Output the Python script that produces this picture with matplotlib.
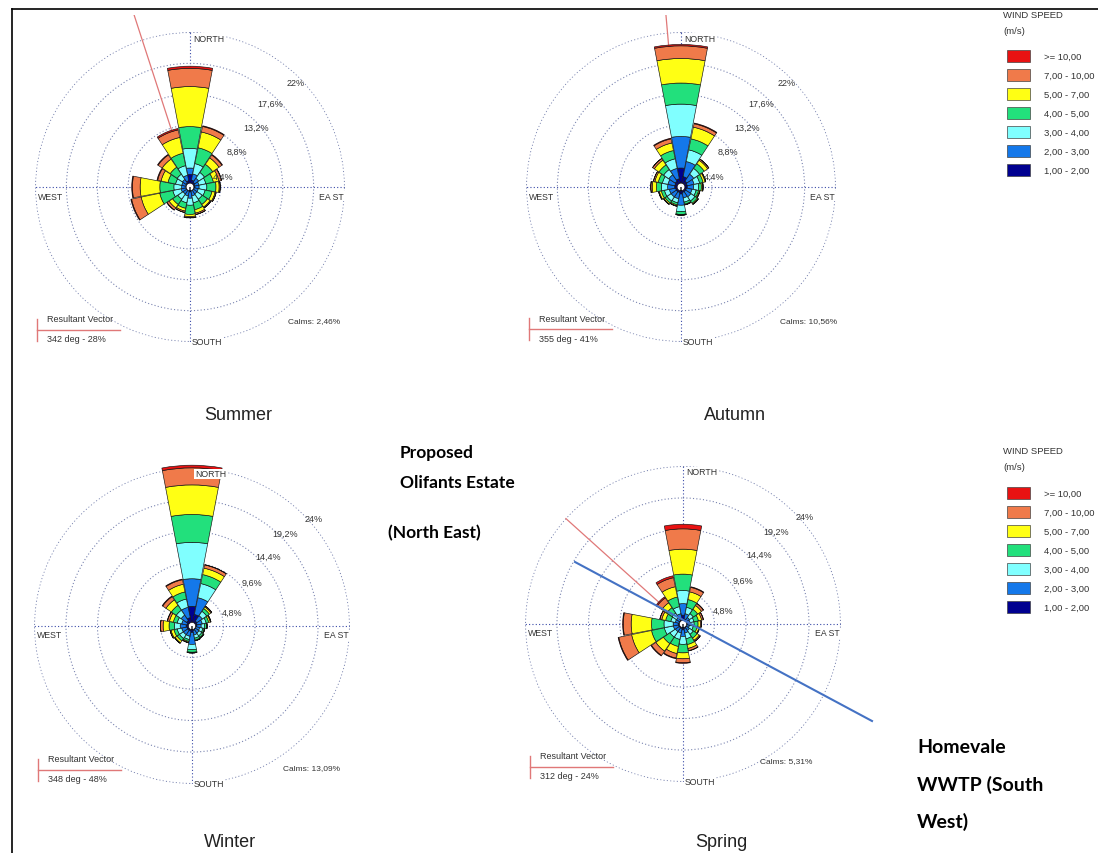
import numpy as np
import matplotlib.pyplot as plt
from matplotlib.patches import Rectangle
from matplotlib.lines import Line2D
from matplotlib.transforms import Bbox, TransformedBbox

W, H = 1098, 854

# wind speed classes (m/s), inner to outer
speed_labels = ['1,00 - 2,00', '2,00 - 3,00', '3,00 - 4,00', '4,00 - 5,00',
                '5,00 - 7,00', '7,00 - 10,00', '>= 10,00']
speed_colors = ['#000090', '#1478ea', '#80ffff', '#22e07c', '#ffff14', '#f07a4a', '#e81212']

directions = ['N', 'NNE', 'NE', 'ENE', 'E', 'ESE', 'SE', 'SSE',
              'S', 'SSW', 'SW', 'WSW', 'W', 'WNW', 'NW', 'NNW']
dir_deg = np.arange(16) * 22.5

# frequency (%) per direction, per speed class (1-2, 2-3, 3-4, 4-5, 5-7, 7-10, >=10)
summer = [
    [1.8, 0.9, 2.8, 3.1, 5.7, 2.6, 0.3],
    [1.0, 0.9, 1.5, 2.3, 2.3, 0.8, 0.1],
    [0.8, 0.7, 1.0, 1.4, 1.1, 0.5, 0.1],
    [0.7, 0.6, 1.0, 1.1, 0.8, 0.35, 0.05],
    [0.7, 0.6, 1.1, 1.3, 0.45, 0.15, 0.0],
    [0.6, 0.6, 1.0, 1.0, 0.45, 0.15, 0.0],
    [0.6, 0.6, 0.9, 0.9, 0.45, 0.15, 0.0],
    [0.6, 0.7, 1.0, 1.0, 0.5, 0.2, 0.0],
    [0.7, 0.9, 1.0, 1.3, 0.3, 0.15, 0.05],
    [0.6, 0.7, 1.0, 0.8, 0.4, 0.2, 0.0],
    [0.6, 0.6, 0.9, 0.9, 0.6, 0.35, 0.05],
    [0.6, 0.7, 1.2, 1.9, 2.7, 1.4, 0.1],
    [0.5, 0.7, 1.1, 2.0, 2.8, 1.1, 0.1],
    [0.6, 0.6, 0.9, 1.1, 1.0, 0.5, 0.1],
    [0.7, 0.6, 0.9, 1.2, 1.4, 0.7, 0.1],
    [0.9, 0.8, 1.4, 1.8, 2.3, 1.1, 0.2],
]
autumn = [
    [2.7, 4.5, 4.6, 3.0, 3.5, 1.8, 0.2],
    [1.5, 2.2, 1.7, 1.6, 1.7, 0.5, 0.1],
    [1.0, 1.2, 1.0, 0.8, 0.6, 0.2, 0.0],
    [0.9, 1.0, 0.8, 0.5, 0.3, 0.1, 0.0],
    [0.9, 0.9, 0.7, 0.4, 0.2, 0.05, 0.0],
    [0.8, 0.8, 0.6, 0.35, 0.15, 0.05, 0.0],
    [0.8, 0.9, 0.7, 0.4, 0.15, 0.05, 0.0],
    [0.8, 0.8, 0.6, 0.3, 0.1, 0.0, 0.0],
    [1.0, 1.6, 0.9, 0.4, 0.1, 0.0, 0.0],
    [0.8, 0.9, 0.6, 0.3, 0.15, 0.05, 0.0],
    [0.8, 0.9, 0.7, 0.35, 0.2, 0.05, 0.0],
    [0.8, 0.9, 0.7, 0.45, 0.3, 0.1, 0.0],
    [0.9, 1.0, 0.9, 0.7, 0.6, 0.2, 0.0],
    [0.9, 1.0, 0.8, 0.6, 0.5, 0.2, 0.0],
    [1.0, 1.1, 0.9, 0.8, 0.8, 0.3, 0.0],
    [1.2, 1.5, 1.4, 1.2, 1.1, 0.6, 0.1],
]
winter = [
    [3.0, 4.2, 5.55, 4.25, 4.5, 2.6, 0.4],
    [1.8, 2.6, 2.2, 1.4, 1.0, 0.5, 0.05],
    [0.9, 1.0, 0.8, 0.5, 0.3, 0.15, 0.0],
    [0.8, 0.8, 0.6, 0.4, 0.25, 0.1, 0.0],
    [0.7, 0.7, 0.5, 0.3, 0.1, 0.0, 0.0],
    [0.6, 0.6, 0.5, 0.2, 0.1, 0.0, 0.0],
    [0.6, 0.7, 0.5, 0.3, 0.1, 0.0, 0.0],
    [0.7, 0.7, 0.5, 0.3, 0.1, 0.0, 0.0],
    [1.0, 1.8, 0.8, 0.4, 0.1, 0.0, 0.0],
    [0.8, 0.8, 0.5, 0.3, 0.15, 0.05, 0.0],
    [0.8, 0.8, 0.7, 0.45, 0.35, 0.1, 0.0],
    [0.8, 0.8, 0.7, 0.5, 0.45, 0.15, 0.0],
    [0.9, 0.9, 0.9, 0.8, 0.9, 0.4, 0.0],
    [0.8, 0.8, 0.7, 0.6, 0.6, 0.3, 0.05],
    [1.0, 1.0, 0.9, 0.9, 1.0, 0.6, 0.1],
    [1.3, 1.6, 1.3, 1.1, 1.2, 0.7, 0.1],
]
spring = [
    [1.35, 1.75, 2.0, 2.5, 3.8, 3.1, 0.7],
    [0.8, 0.8, 1.0, 1.2, 1.2, 0.7, 0.1],
    [0.6, 0.6, 0.7, 0.8, 0.7, 0.35, 0.05],
    [0.6, 0.5, 0.6, 0.7, 0.5, 0.25, 0.05],
    [0.6, 0.5, 0.6, 0.6, 0.35, 0.15, 0.0],
    [0.5, 0.5, 0.6, 0.6, 0.3, 0.1, 0.0],
    [0.6, 0.6, 0.7, 0.7, 0.4, 0.2, 0.0],
    [0.7, 0.7, 0.9, 0.9, 0.6, 0.35, 0.05],
    [0.9, 1.0, 1.2, 1.3, 0.9, 0.6, 0.1],
    [0.7, 0.7, 1.0, 1.1, 1.1, 0.7, 0.1],
    [0.7, 0.7, 1.0, 1.2, 1.4, 0.8, 0.1],
    [0.7, 0.8, 1.4, 2.0, 3.1, 2.0, 0.1],
    [0.7, 0.8, 1.4, 1.9, 3.1, 1.2, 0.1],
    [0.6, 0.6, 0.7, 0.8, 0.6, 0.3, 0.0],
    [0.6, 0.6, 0.8, 1.0, 0.9, 0.9, 0.2],
    [0.8, 0.8, 1.1, 1.5, 1.6, 1.4, 0.3],
]

seasons = ['Summer', 'Autumn', 'Winter', 'Spring']
season_data = [summer, autumn, winter, spring]
ring_top = [4.4, 8.8, 13.2, 17.6, 22]
ring_bottom = [4.8, 9.6, 14.4, 19.2, 24]
ring_labels_top = ['4,4%', '8,8%', '13,2%', '17,6%', '22%']
ring_labels_bottom = ['4,8%', '9,6%', '14,4%', '19,2%', '24%']
vector_deg = [342, 355, 348, 312]
vector_pct = [28, 41, 48, 24]
calms = ['2,46%', '10,56%', '13,09%', '5,31%']


def fx(x):
    return x / W


def fy(y):
    return 1 - y / H


plt.rcParams['font.family'] = ['Liberation Sans', 'DejaVu Sans']
fig = plt.figure(figsize=(W / 100, H / 100), dpi=100)

# panel layout in pixels: centre, radius, visible box of each pasted image
centers = [(190, 188), (681, 188), (192, 627), (683, 625)]
radii = [155, 155, 158, 158]
crops = [(14, 16, 495, 432), (500, 16, 990, 432), (14, 600, 495, 854), (500, 440, 990, 854)]
label_off_top = [(33, -11), (47, -36), (66, -60), (80, -84), (106, -104)]
label_off_bottom = [(40, -14), (60, -44), (76, -70), (93, -93), (122, -108)]
grid_col = '#7a84b0'
axis_col = '#3a4aa8'
txt_col = '#333333'
dots = (0, (1, 2))

for i in range(4):
    cx, cy = centers[i]
    R = radii[i]
    top = i < 2
    rings = ring_top if top else ring_bottom
    rlabels = ring_labels_top if top else ring_labels_bottom
    offs = label_off_top if top else label_off_bottom
    ax = fig.add_axes([fx(cx - R), fy(cy + R), 2 * R / W, 2 * R / H], projection='polar')
    ax.set_theta_zero_location('N')
    ax.set_theta_direction(-1)
    ax.set_ylim(0, rings[-1] * 1.003)
    ax.set_axisbelow(True)

    vals = np.array(season_data[i])
    theta = np.deg2rad(dir_deg)
    width = np.deg2rad(22.5) * 0.96
    bottom = np.zeros(16)
    for k in range(7):
        ax.bar(theta, vals[:, k], width=width, bottom=bottom, color=speed_colors[k],
               edgecolor='#111111', linewidth=0.45, zorder=3, clip_on=False)
        bottom += vals[:, k]
    # calm circle
    ax.bar(0, 0.55, width=2 * np.pi, bottom=0, color='white', edgecolor='#111111',
           linewidth=0.5, zorder=4)

    ax.set_yticks(rings)
    ax.set_yticklabels([])
    ax.set_xticks(np.deg2rad([0, 90, 180, 270]))
    ax.set_xticklabels([])
    ax.yaxis.grid(True, linestyle=dots, color=grid_col, linewidth=0.8)
    ax.xaxis.grid(True, linestyle=dots, color=axis_col, linewidth=0.8)
    ax.spines['polar'].set_visible(False)
    ax.set_facecolor('none')

    # resultant vector
    ln, = ax.plot([np.deg2rad(vector_deg[i])] * 2, [0, vector_pct[i]], color='#e07878',
                  linewidth=0.9, zorder=2)
    x0, y0, x1, y1 = crops[i]
    ln.set_clip_path(None)
    ln.set_clip_box(TransformedBbox(Bbox.from_extents(fx(x0), fy(y1), fx(x1), fy(y0)),
                                    fig.transFigure))

    for lab, (dx, dy) in zip(rlabels, offs):
        fig.text(fx(cx + dx), fy(cy + dy), lab, fontsize=6.5, color=txt_col,
                 ha='center', va='center', zorder=6)

    bb = dict(facecolor='white', edgecolor='none', pad=0.6)
    fig.text(fx(cx + 3), fy(cy - R + 6), 'NORTH', fontsize=6.3, color=txt_col,
             ha='left', va='center', bbox=bb, zorder=6)
    fig.text(fx(cx + 2), fy(cy + R), 'SOUTH', fontsize=6.3, color=txt_col,
             ha='left', va='center', bbox=bb, zorder=6)
    fig.text(fx(cx - R + 3), fy(cy + 9), 'WEST', fontsize=6.3, color=txt_col,
             ha='left', va='center', bbox=bb, zorder=6)
    fig.text(fx(cx + R - 1), fy(cy + 9), 'EA ST', fontsize=6.3, color=txt_col,
             ha='right', va='center', bbox=bb, zorder=6)

# resultant vector / calms boxes
vec_boxes = [(37, 331), (529, 330), (38, 771), (530, 768)]
calm_pos = [(288, 322), (780, 322), (283, 769), (760, 762)]
for i in range(4):
    lx, ly = vec_boxes[i]
    fig.add_artist(Line2D([fx(lx), fx(lx + 83)], [fy(ly), fy(ly)], color='#e07878',
                          linewidth=1.0, transform=fig.transFigure))
    fig.add_artist(Line2D([fx(lx), fx(lx)], [fy(ly - 11), fy(ly + 11)], color='#e07878',
                          linewidth=1.0, transform=fig.transFigure))
    fig.text(fx(lx + 10), fy(ly - 11), 'Resultant Vector', fontsize=6.5, color=txt_col,
             ha='left', va='center')
    fig.text(fx(lx + 10), fy(ly + 9), '%d deg - %d%%' % (vector_deg[i], vector_pct[i]),
             fontsize=6.5, color=txt_col, ha='left', va='center')
    fig.text(fx(calm_pos[i][0]), fy(calm_pos[i][1]), 'Calms: ' + calms[i], fontsize=6,
             color=txt_col, ha='left', va='center')

caption_pos = [(238, 416), (735, 416), (230, 843), (721, 843)]
for name, (x, y) in zip(seasons, caption_pos):
    fig.text(fx(x), fy(y), name, fontsize=13, color='#222222', ha='center', va='center')

# legends
for top_y in (15, 452):
    fig.text(fx(1003), fy(top_y), 'WIND SPEED', fontsize=6.8, color=txt_col, va='center')
    fig.text(fx(1003), fy(top_y + 16), '(m/s)', fontsize=6.8, color=txt_col, va='center')
    for j in range(7):
        k = 6 - j
        yc = top_y + 42 + 19 * j
        fig.add_artist(Rectangle((fx(1007), fy(yc + 6)), 23 / W, 12 / H, facecolor=speed_colors[k],
                                 edgecolor='#444444', linewidth=0.5, transform=fig.transFigure))
        fig.text(fx(1044), fy(yc), speed_labels[k], fontsize=6.8, color=txt_col, va='center')

# site annotations
fig.add_artist(Line2D([fx(575), fx(872)], [fy(563), fy(722)], color='#4472c4',
                      linewidth=1.5, transform=fig.transFigure, zorder=7))
bold = dict(family=['Lato', 'DejaVu Sans'], fontweight='bold', color='black')
fig.text(fx(400), fy(453), 'Proposed', fontsize=12.5, va='center', **bold)
fig.text(fx(400), fy(483), 'Olifants Estate', fontsize=12.5, va='center', **bold)
fig.text(fx(388), fy(533), '(North East)', fontsize=12.5, va='center', **bold)
fig.text(fx(917), fy(748), 'Homevale', fontsize=14, va='center', **bold)
fig.text(fx(917), fy(785), 'WWTP (South', fontsize=14, va='center', **bold)
fig.text(fx(917), fy(822), 'West)', fontsize=14, va='center', **bold)

# page frame
fig.add_artist(Line2D([fx(12), 1], [fy(10), fy(10)], color='black', linewidth=1.2,
                      transform=fig.transFigure))
fig.add_artist(Line2D([fx(12), fx(12)], [fy(10), 0], color='black', linewidth=1.2,
                      transform=fig.transFigure))

fig.savefig('out.png', dpi=100, facecolor='white')
